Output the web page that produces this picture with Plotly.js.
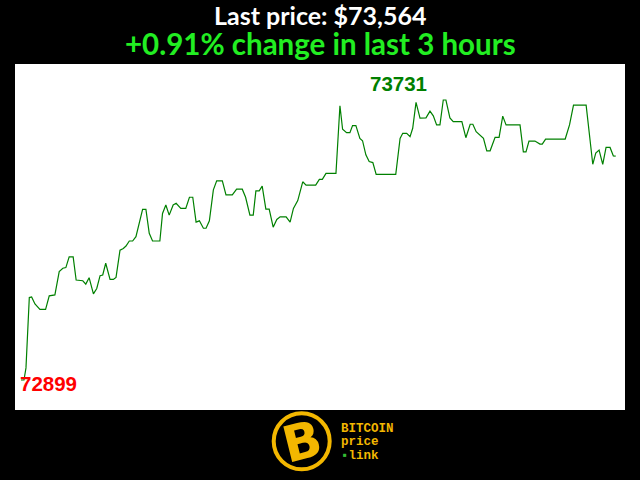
<!DOCTYPE html>
<html>
<head>
<meta charset="utf-8">
<script src="https://cdn.plot.ly/plotly-3.0.1.min.js"></script>
<style>html,body{margin:0;padding:0;background:#000;}#chart{width:640px;height:480px;}</style>
</head>
<body>
<div id="chart"></div>
<script>
// minutes since start of the 3-hour window
var minutes = [0.0,0.9,1.5,2.5,3.2,4.2,5.7,7.4,8.5,10.2,11.5,12.6,13.5,14.5,15.7,16.6,18.6,19.5,20.5,21.8,
22.8,23.8,24.6,25.5,26.8,27.8,28.6,29.8,30.8,31.6,32.6,33.6,34.6,36.6,37.6,38.6,39.6,41.8,42.6,43.6,
44.6,45.8,46.7,48.1,49.6,50.7,51.7,52.7,53.7,54.9,55.7,56.7,57.9,58.9,60.6,61.7,63.6,64.9,66.6,67.6,
68.9,69.9,70.7,71.7,72.6,73.7,74.7,75.9,77.0,78.0,79.8,81.0,82.0,83.3,84.8,85.8,88.7,89.8,90.7,91.8,
94.8,96.0,96.8,98.0,99.0,99.8,100.8,102.0,102.8,103.8,104.8,105.9,106.9,112.8,114.1,114.9,116.1,117.1,117.9,118.9,
120.1,121.9,123.1,124.1,125.1,126.1,127.1,127.9,129.1,130.1,132.7,133.9,135.2,136.0,137.0,138.2,139.2,140.2,141.2,142.7,
143.9,145.0,146.0,150.2,151.2,152.0,152.9,154.7,156.2,156.9,157.9,163.8,165.1,166.3,170.1,172.1,173.0,174.0,175.1,176.1,
177.3,178.3,179.0];
// BTC price in USD
var prices = [72899,72899,72935,73144,73146,73125,73109,73109,73149,73152,73221,73231,73233,73265,73265,73196,73194,73184,73203,73155,
73171,73209,73211,73246,73198,73198,73204,73285,73290,73297,73312,73312,73325,73406,73406,73335,73312,73312,73394,73419,
73389,73419,73424,73409,73409,73442,73442,73368,73372,73350,73350,73372,73464,73491,73491,73449,73449,73466,73466,73442,
73389,73389,73461,73461,73475,73407,73407,73353,73376,73384,73384,73368,73409,73432,73488,73478,73478,73495,73495,73513,
73513,73714,73644,73634,73634,73655,73655,73617,73610,73568,73548,73545,73510,73510,73617,73632,73632,73622,73647,73724,
73677,73678,73698,73684,73657,73657,73731,73731,73678,73667,73667,73619,73659,73659,73637,73627,73617,73580,73580,73620,
73620,73683,73657,73657,73577,73577,73609,73609,73600,73600,73615,73615,73657,73716,73716,73540,73573,73582,73540,73590,
73590,73565,73564];
var periodHours = 3;
var logoLines = ['BITCOIN', 'price', 'link'];

var first = prices[0], last = prices[prices.length-1];
var minP = Math.min.apply(null, prices), maxP = Math.max.apply(null, prices);
var minI = prices.indexOf(minP), maxI = prices.indexOf(maxP);
var pct = (last-first)/first*100;
var titleFont = 'Lato, "Open Sans", sans-serif';
var labelFont = '"Liberation Sans", Arial, sans-serif';
var monoFont = '"Liberation Mono", "DejaVu Sans Mono", monospace';
var gold = '#f3b700';

var trace = {
  x: minutes, y: prices, type: 'scatter', mode: 'lines',
  line: {color: '#008000', width: 1.2}, hoverinfo: 'skip'
};

function px2x(px){ return (px-15)/610; }
function px2y(py){ return (410-py)/346; }

var layout = {
  width: 640, height: 480,
  margin: {l: 15, r: 15, t: 64, b: 70, pad: 0},
  paper_bgcolor: '#000000', plot_bgcolor: '#ffffff',
  showlegend: false,
  xaxis: {range: [-1.806, 181.8], showgrid: false, zeroline: false, showticklabels: false, showline: false, ticks: '', fixedrange: true},
  yaxis: {range: [72809.9, 73838], showgrid: false, zeroline: false, showticklabels: false, showline: false, ticks: '', fixedrange: true},
  shapes: [
    {type: 'circle', xref: 'paper', yref: 'paper', x0: px2x(273.7), x1: px2x(329.7), y0: px2y(469.3), y1: px2y(413.3),
     line: {color: gold, width: 4}, fillcolor: '#000000'}
  ],
  annotations: [
    {xref: 'paper', yref: 'paper', x: 0.5, y: px2y(15), xanchor: 'center', yanchor: 'middle', showarrow: false, borderpad: 0,
     text: '<b>Last price: $' + last.toLocaleString('en-US') + '</b>', font: {family: titleFont, size: 25, color: '#ffffff'}},
    {xref: 'paper', yref: 'paper', x: 0.5, y: px2y(43.5), xanchor: 'center', yanchor: 'middle', showarrow: false, borderpad: 0,
     text: '<b>' + (pct >= 0 ? '+' : '') + pct.toFixed(2) + '% change in last ' + periodHours + ' hours</b>',
     font: {family: titleFont, size: 29.5, color: '#22ee22'}},
    {x: minutes[minI], y: minP, xref: 'x', yref: 'y', xanchor: 'left', yanchor: 'middle', showarrow: false, borderpad: 0,
     xshift: -2, yshift: -3.5, text: '<b>' + minP + '</b>', font: {family: labelFont, size: 20.5, color: '#ff0000'}},
    {x: minutes[maxI], y: maxP, xref: 'x', yref: 'y', xanchor: 'center', yanchor: 'middle', showarrow: false, borderpad: 0,
     xshift: -45, yshift: 17, text: '<b>' + maxP + '</b>', font: {family: labelFont, size: 20.5, color: '#008000'}},
    {xref: 'paper', yref: 'paper', x: px2x(302), y: px2y(442), xanchor: 'center', yanchor: 'middle', showarrow: false, borderpad: 0,
     textangle: -14, text: '<b>B</b>', font: {family: '"DejaVu Sans", sans-serif', size: 50, color: gold}},
    {xref: 'paper', yref: 'paper', x: px2x(340), y: px2y(429), xanchor: 'left', yanchor: 'middle', showarrow: false, borderpad: 0,
     text: '<b>' + logoLines[0] + '</b>', font: {family: monoFont, size: 12.5, color: gold}},
    {xref: 'paper', yref: 'paper', x: px2x(340), y: px2y(442.5), xanchor: 'left', yanchor: 'middle', showarrow: false, borderpad: 0,
     text: '<b>' + logoLines[1] + '</b>', font: {family: monoFont, size: 12.5, color: gold}},
    {xref: 'paper', yref: 'paper', x: px2x(340), y: px2y(456), xanchor: 'left', yanchor: 'middle', showarrow: false, borderpad: 0,
     text: '<b><span style="color:#33bb33">\u25aa</span>' + logoLines[2] + '</b>', font: {family: monoFont, size: 12.5, color: gold}}
  ]
};

Plotly.newPlot('chart', [trace], layout, {staticPlot: true, displayModeBar: false});
</script>
</body>
</html>
